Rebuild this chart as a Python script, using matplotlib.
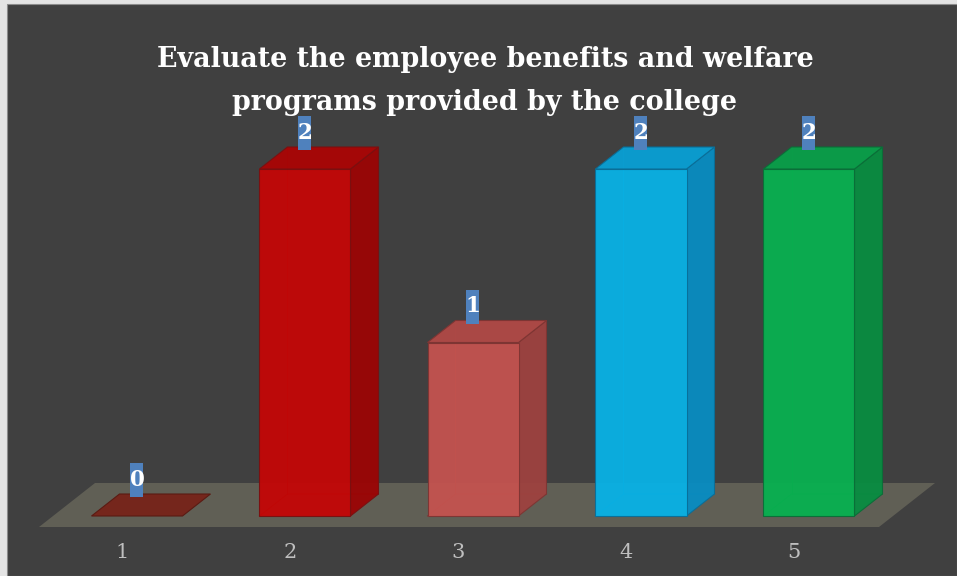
import matplotlib
matplotlib.use("Agg")
import matplotlib.pyplot as plt
from matplotlib.patches import Polygon, Rectangle

# ---- data ----
categories = ["1", "2", "3", "4", "5"]
values = [0, 2, 1, 2, 2]
front_colors = ["#76241A", "#C40606", "#C4534F", "#08B2E6", "#08B150"]
top_colors = ["#76241A", "#A80505", "#AE4946", "#0A9ED2", "#0A9E49"]
side_colors = ["#6A1F16", "#9C0404", "#9E423F", "#088DC2", "#088D41"]
edge_colors = ["#5A1A12", "#7A1010", "#7E3533", "#0A6E98", "#0A6E38"]
title = "Evaluate the employee benefits and welfare\nprograms provided by the college"

# ---- layout ----
W, H = 957, 576
DPI = 100
PX_PER_X = 168.0      # pixels per category step
X0_PX = 137.0         # pixel x of first category
PX_PER_Y = 173.5      # pixels per value unit
Y0_PX = 60.0          # pixel (from bottom) of value 0
DX = 28.0 / PX_PER_X  # depth offset (x)
DY = 22.0 / PX_PER_Y  # depth offset (y)
HW = 45.5 / PX_PER_X  # half bar width

fig = plt.figure(figsize=(W / DPI, H / DPI), dpi=DPI, facecolor="#E4E4E4")
fig.patches.append(Rectangle((7 / W, 0), (W - 7) / W, (H - 4) / H,
                             transform=fig.transFigure, facecolor="#404040",
                             edgecolor="#8C8C8C", lw=0.8, zorder=-5))
ax = fig.add_axes([0, 0, 1, 1])
ax.set_axis_off()
ax.set_zorder(1)
ax.set_xlim(1 - X0_PX / PX_PER_X, 1 + (W - X0_PX) / PX_PER_X)
ax.set_ylim(-Y0_PX / PX_PER_Y, (H - Y0_PX) / PX_PER_Y)

xs = list(range(1, len(categories) + 1))

# floor
fl, fr = xs[0] - 0.5, xs[-1] + 0.5
floor = Polygon([(fl - 0.5 * DX, -0.5 * DY), (fr - 0.5 * DX, -0.5 * DY),
                 (fr + 1.5 * DX, 1.5 * DY), (fl + 1.5 * DX, 1.5 * DY)],
                closed=True, facecolor="#605F55", edgecolor="none", zorder=1)
ax.add_patch(floor)

for x, v, fc, tc, sc, ec in zip(xs, values, front_colors, top_colors,
                                side_colors, edge_colors):
    l, r = x - HW, x + HW
    if v > 0:
        # hidden back edges seen through translucent faces
        ax.plot([l, l + DX, r + DX], [0, DY, DY], color=ec, lw=0.7, zorder=2)
        ax.plot([l + DX, l + DX], [DY, v + DY], color=ec, lw=0.7, zorder=2)
        side = Polygon([(r, 0), (r + DX, DY), (r + DX, v + DY), (r, v)],
                       closed=True, facecolor=sc, edgecolor=ec, lw=0.8,
                       alpha=0.95, zorder=3)
        ax.add_patch(side)
        ax.bar([x], [v], width=2 * HW, bottom=0, color=fc, edgecolor=ec,
               lw=0.8, alpha=0.95, zorder=4)
    top = Polygon([(l, v), (r, v), (r + DX, v + DY), (l + DX, v + DY)],
                  closed=True, facecolor=tc, edgecolor=ec, lw=0.8,
                  alpha=0.97, zorder=5)
    ax.add_patch(top)

    # data label
    bw, bh = 13.0 / PX_PER_X, 34.0 / PX_PER_Y
    by = v + DY - 3.0 / PX_PER_Y
    ax.add_patch(Rectangle((x - bw / 2, by), bw, bh, facecolor="#4F81BD",
                           edgecolor="none", zorder=6))
    ax.text(x, by + bh / 2, str(v), ha="center", va="center", color="white",
            fontsize=15.5, fontweight="bold", family="DejaVu Serif", zorder=7)

# category labels
for x, c in zip(xs, categories):
    ax.text(x - 15.0 / PX_PER_X, -37.0 / PX_PER_Y, c, ha="center",
            va="center", color="#BFBFBF", fontsize=15, family="DejaVu Serif")

fig.text(485 / W, 1 - 46 / H, title, ha="center", va="top", color="white",
         fontsize=19.4, fontweight="bold", family="DejaVu Serif",
         linespacing=1.75, zorder=10)

fig.savefig("out.png", dpi=DPI, facecolor=fig.get_facecolor())
